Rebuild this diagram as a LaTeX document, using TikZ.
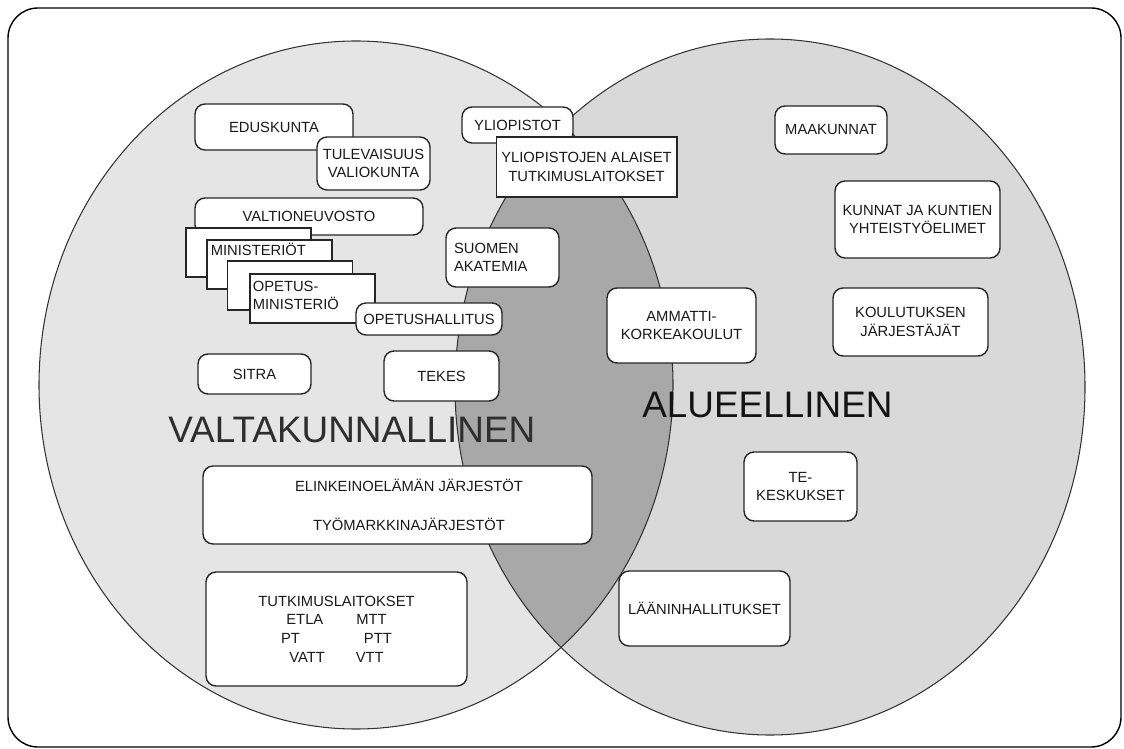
\documentclass[tikz,border=0pt]{standalone}
\usepackage{fontspec}
\setmainfont{Liberation Sans}

\begin{document}
\begin{tikzpicture}[x=0.02cm,y=-0.02cm,
      every node/.style={font=\fontsize{8.4}{10.6}\selectfont,text=black!90},
      rbox/.style={draw=black!85,line width=0.8pt,fill=white,rounded corners=0.2cm,align=center,inner sep=0pt},
      sbox/.style={draw=black!85,line width=0.6pt,fill=white,align=center,inner sep=0pt},
      txt/.style={anchor=base west,inner sep=0pt},
      bigtxt/.style={font=\fontsize{21}{25}\selectfont,anchor=base west,inner sep=0pt}]
      \useasboundingbox (0,0) rectangle (1124,749);
      \draw[line width=0.8pt,rounded corners=0.6cm] (8,8) rectangle (1121,747);
      % the two areas and their overlap
      \fill[black!10] (356,385) ellipse [x radius=317,y radius=344];
      \fill[black!15] (770,387) ellipse [x radius=315,y radius=348];
      \begin{scope}
            \clip (356,385) ellipse [x radius=317,y radius=344];
            \fill[black!34] (770,387) ellipse [x radius=315,y radius=348];
      \end{scope}
      \draw[black!80,line width=0.6pt] (356,385) ellipse [x radius=317,y radius=344];
      \draw[black!80,line width=0.6pt] (770,387) ellipse [x radius=315,y radius=348];
      % valtakunnallinen
      \node[rbox,minimum width=3.16cm,minimum height=0.92cm] (eduskunta) at (274,127) {EDUSKUNTA};
      \node[rbox,minimum width=2.26cm,minimum height=1.06cm] (tulevaisuus) at (373.5,163.5) {TULEVAISUUS\\VALIOKUNTA};
      \node[rbox,minimum width=4.56cm,minimum height=0.74cm] (valtioneuvosto) at (309,216.5) {VALTIONEUVOSTO};
      \node[sbox,minimum width=2.5cm,minimum height=0.98cm] (min1) at (248.5,252.5) {};
      \node[sbox,minimum width=2.5cm,minimum height=0.98cm] (min2) at (269.5,264.5) {};
      \node[txt] (min2txt) at ([shift={(4,16)}]min2.north west) {MINISTERIÖT};
      \node[sbox,minimum width=2.5cm,minimum height=0.98cm] (min3) at (290,285.5) {};
      \node[sbox,minimum width=2.5cm,minimum height=0.98cm] (min4) at (312.5,298.5) {};
      \node[txt] (min4txt) at ([shift={(3,18)}]min4.north west) {OPETUS-};
      \node[txt] (min4txtb) at ([shift={(3,36)}]min4.north west) {MINISTERIÖ};
      \node[rbox,minimum width=2.92cm,minimum height=0.64cm] (opetushallitus) at (429,319) {OPETUSHALLITUS};
      \node[rbox,minimum width=2.22cm,minimum height=0.72cm] (yliopistot) at (517.5,125) {YLIOPISTOT};
      \node[sbox,minimum width=3.62cm,minimum height=1.2cm] (alaiset) at (586.5,167) {YLIOPISTOJEN ALAISET\\TUTKIMUSLAITOKSET};
      \node[rbox,align=left,text width=1.94cm,inner xsep=0.16cm,minimum height=1.18cm] (akatemia) at (502.5,257.5) {SUOMEN\\AKATEMIA};
      \node[rbox,minimum width=2.26cm,minimum height=0.8cm] (sitra) at (254.5,374) {SITRA};
      \node[rbox,minimum width=2.3cm,minimum height=1.0cm] (tekes) at (441.5,376) {TEKES};
      \node[bigtxt,text=black!82] (valtakunnallinen) at (168,442) {VALTAKUNNALLINEN};
      \node[rbox,minimum width=7.78cm,minimum height=1.56cm] (elinkeino) at (397.5,505) {};
      \node[align=center,inner sep=0pt] (elinkeinotxt) at (409,505) {ELINKEINOELÄMÄN JÄRJESTÖT\\[0.4cm]TYÖMARKKINAJÄRJESTÖT};
      \node[rbox,minimum width=5.22cm,minimum height=2.28cm] (tutkimus) at (336.5,629) {TUTKIMUSLAITOKSET\\ETLA\hspace{0.66cm}MTT\\PT\hspace{1.28cm}PTT\\VATT\hspace{0.62cm}VTT};
      % alueellinen
      \node[rbox,minimum width=2.24cm,minimum height=0.96cm] (maakunnat) at (831,130) {MAAKUNNAT};
      \node[rbox,minimum width=3.3cm,minimum height=1.54cm] (kunnat) at (917.5,219.5) {KUNNAT JA KUNTIEN\\YHTEISTYÖELIMET};
      \node[rbox,minimum width=2.98cm,minimum height=1.5cm] (amk) at (681.5,325.5) {AMMATTI-\\KORKEAKOULUT};
      \node[rbox,minimum width=3.1cm,minimum height=1.36cm] (koulutus) at (910.5,322) {KOULUTUKSEN\\JÄRJESTÄJÄT};
      \node[bigtxt,text=black!92] (alueellinen) at (642,417) {ALUEELLINEN};
      \node[rbox,minimum width=2.26cm,minimum height=1.38cm] (tekeskus) at (800.5,486.5) {TE-\\KESKUKSET};
      \node[rbox,minimum width=3.42cm,minimum height=1.5cm] (laanit) at (704.5,608.5) {LÄÄNINHALLITUKSET};
\end{tikzpicture}
\end{document}
